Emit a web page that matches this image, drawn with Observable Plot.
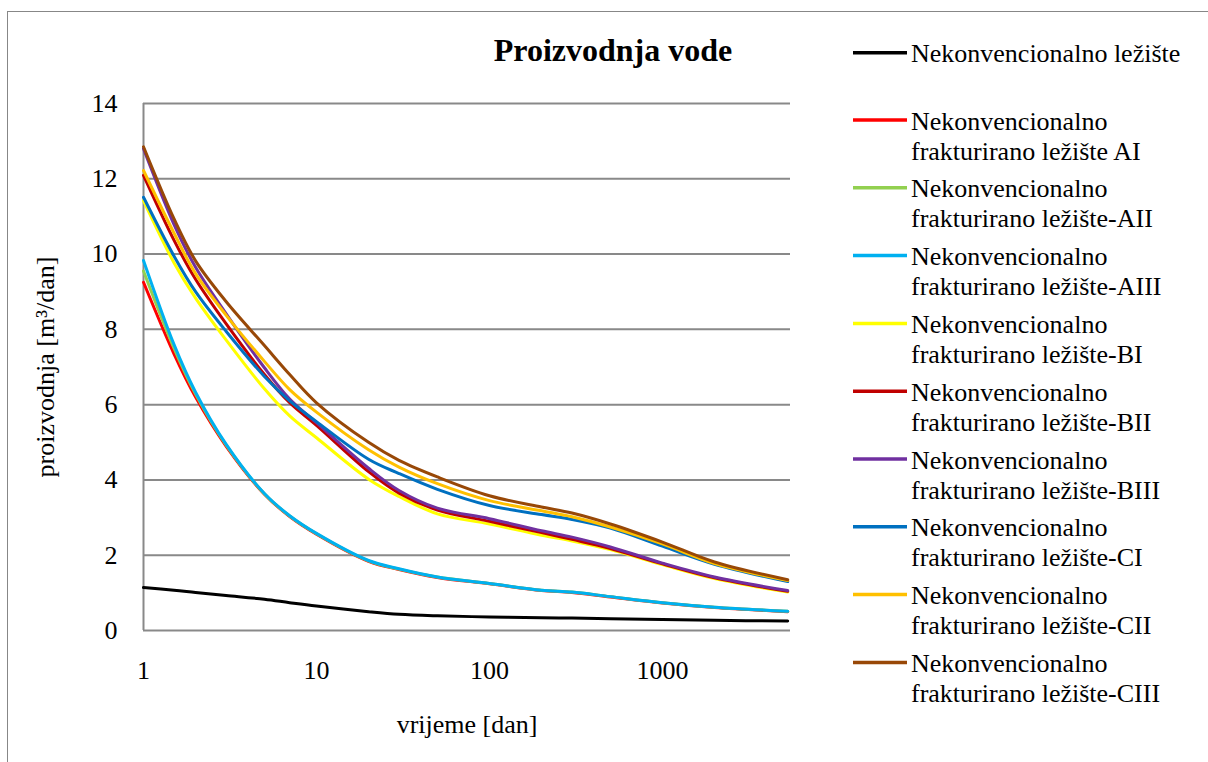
<!DOCTYPE html>
<html>
<head>
<meta charset="utf-8">
<script src="https://cdn.jsdelivr.net/npm/d3@7"></script>
<script src="https://cdn.jsdelivr.net/npm/@observablehq/plot@0.6"></script>
<style>
  body { margin: 0; background: #fff; font-family: "Liberation Serif", "Times New Roman", serif; }
  #wrap { position: relative; width: 1208px; height: 762px; overflow: hidden; background: #fff; }
  #frame { position: absolute; left: 7px; top: 11px; width: 1400px; height: 900px; border: 1px solid #878787; box-sizing: border-box; }
  #chart { position: absolute; left: 0; top: 0; }
  #overlay { position: absolute; left: 0; top: 0; }
</style>
</head>
<body>
<div id="wrap">
  <div id="frame"></div>
  <div id="chart"></div>
  <svg id="overlay" width="1208" height="762"></svg>
</div>
<script>
// ---- data ----
const titleText = "Proizvodnja vode";
const xLabel = "vrijeme [dan]";
const yLabel = "proizvodnja [m³/dan]";
const xTicks = [1, 10, 100, 1000];
const yTicks = [0, 2, 4, 6, 8, 10, 12, 14];

const days = [1, 1.5, 2, 3, 5, 7, 10, 20, 30, 50, 100, 200, 300, 500, 1000, 2000, 5300];

const seriesNames = [
  "Nekonvencionalno ležište",
  "Nekonvencionalno frakturirano ležište AI",
  "Nekonvencionalno frakturirano ležište-AII",
  "Nekonvencionalno frakturirano ležište-AIII",
  "Nekonvencionalno frakturirano ležište-BI",
  "Nekonvencionalno frakturirano ležište-BII",
  "Nekonvencionalno frakturirano ležište-BIII",
  "Nekonvencionalno frakturirano ležište-CI",
  "Nekonvencionalno frakturirano ležište-CII",
  "Nekonvencionalno frakturirano ležište-CIII"
];
const seriesColors = ["#000000", "#FF0000", "#92D050", "#00B0F0", "#FFFF00", "#C00000", "#7030A0", "#0070C0", "#FFC000", "#984807"];

const conv = [1.14, 1.07, 1.01, 0.93, 0.83, 0.74, 0.65, 0.50, 0.43, 0.39, 0.36, 0.34, 0.33, 0.31, 0.29, 0.27, 0.25];
const AI   = [9.25, 7.35, 6.20, 4.90, 3.62, 3.03, 2.56, 1.84, 1.62, 1.41, 1.24, 1.06, 1.01, 0.89, 0.73, 0.61, 0.50];
const AII  = [9.55, 7.50, 6.28, 4.93, 3.63, 3.04, 2.57, 1.85, 1.63, 1.42, 1.25, 1.07, 1.02, 0.90, 0.74, 0.62, 0.51];
const AIII = [9.83, 7.60, 6.33, 4.95, 3.64, 3.05, 2.58, 1.86, 1.64, 1.42, 1.25, 1.07, 1.02, 0.90, 0.74, 0.62, 0.51];
const BI   = [11.42, 9.77, 8.83, 7.72, 6.42, 5.70, 5.12, 4.02, 3.56, 3.10, 2.83, 2.53, 2.38, 2.15, 1.75, 1.38, 1.02];
const BII  = [12.09, 10.37, 9.33, 8.15, 6.80, 6.05, 5.45, 4.22, 3.65, 3.20, 2.90, 2.60, 2.42, 2.18, 1.77, 1.40, 1.04];
const BIII = [12.80, 10.79, 9.65, 8.42, 6.98, 6.15, 5.52, 4.31, 3.72, 3.25, 2.97, 2.65, 2.48, 2.22, 1.79, 1.42, 1.06];
const CI   = [11.51, 9.95, 9.00, 7.95, 6.75, 6.10, 5.55, 4.55, 4.17, 3.75, 3.32, 3.08, 2.95, 2.72, 2.24, 1.76, 1.30];
const CII  = [12.22, 10.56, 9.48, 8.38, 7.15, 6.40, 5.80, 4.80, 4.34, 3.90, 3.45, 3.18, 3.02, 2.75, 2.30, 1.78, 1.33];
const CIII = [12.85, 10.94, 9.82, 8.74, 7.57, 6.80, 6.05, 5.00, 4.52, 4.08, 3.58, 3.28, 3.12, 2.83, 2.35, 1.82, 1.35];

const seriesValues = [conv, AI, AII, AIII, BI, BII, BIII, CI, CII, CIII];

// ---- build table ----
const rows = [];
seriesNames.forEach((name, i) => {
  seriesValues[i].forEach((v, j) => rows.push({name, color: seriesColors[i], t: days[j], v}));
});

const font = "Liberation Serif, Times New Roman, serif";
const gridColor = "#898989";

const chart = Plot.plot({
  width: 800,
  height: 762,
  marginLeft: 143,
  marginRight: 10,
  marginTop: 103,
  marginBottom: 132,
  style: { fontFamily: font, fontSize: "26px", color: "#000", background: "transparent", overflow: "visible" },
  x: { type: "log", domain: [1, 5500] },
  y: { domain: [0, 14] },
  color: { type: "identity" },
  marks: [
    Plot.gridY(yTicks, { stroke: gridColor, strokeOpacity: 1, strokeWidth: 2 }),
    Plot.ruleX([1], { y1: 0, y2: 14, stroke: gridColor, strokeWidth: 2 }),
    Plot.axisY(yTicks, { tickSize: 0, tickPadding: 26, label: null, fontSize: 26 }),
    Plot.axisX(xTicks, { tickSize: 0, tickPadding: 30, label: null, tickFormat: d => String(d), fontSize: 26 }),
    Plot.text([xLabel], { frameAnchor: "bottom", dy: 102, fontSize: 26, fill: "#000" }),
    Plot.text([yLabel], { frameAnchor: "left", textAnchor: "middle", rotate: -90, dx: -98, fontSize: 26, fill: "#000" }),
    Plot.line(rows, { x: "t", y: "v", z: "name", stroke: "color", strokeWidth: 3, curve: "catmull-rom" })
  ]
});
document.getElementById("chart").appendChild(chart);

// ---- title and legend ----
const svg = d3.select("#overlay");
svg.append("text")
  .attr("x", 613).attr("y", 61)
  .attr("text-anchor", "middle")
  .attr("font-family", font).attr("font-size", 32).attr("font-weight", "bold")
  .text(titleText);

const lg = svg.append("g").attr("font-family", font).attr("font-size", 26);
seriesNames.forEach((name, i) => {
  const y = i === 0 ? 52.7 : 120 + 67.8 * (i - 1);
  lg.append("line")
    .attr("x1", 853).attr("x2", 907).attr("y1", y).attr("y2", y)
    .attr("stroke", seriesColors[i]).attr("stroke-width", 3.5);
  const t = lg.append("text").attr("x", 911).attr("y", y + 9.5);
  if (i === 0) {
    t.text(name);
  } else {
    const k = name.indexOf(" ");
    t.append("tspan").attr("x", 911).text(name.slice(0, k));
    t.append("tspan").attr("x", 911).attr("dy", 30).text(name.slice(k + 1));
  }
});
</script>
</body>
</html>
